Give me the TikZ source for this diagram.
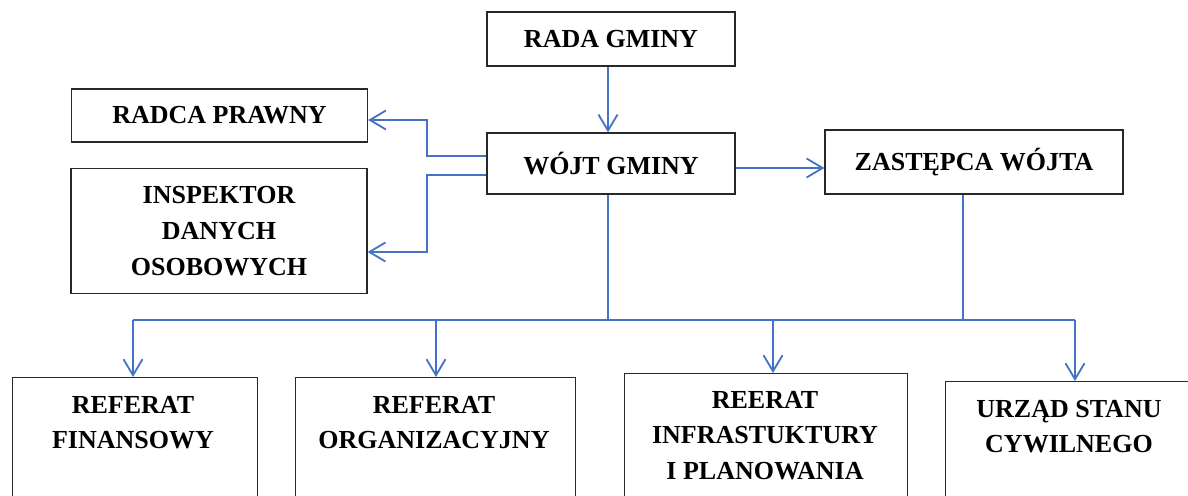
\documentclass[tikz,border=0pt]{standalone}
\usepackage{fontspec}
\setmainfont{Liberation Serif}
\usetikzlibrary{arrows.meta}
\definecolor{lineblue}{RGB}{68,114,196}
\definecolor{boxgray}{RGB}{40,40,40}
\begin{document}
\begin{tikzpicture}[x=1pt,y=-1pt,
  box/.style={draw=boxgray,line width=1.3pt,inner sep=0pt,align=center,
    font=\fontsize{26}{36}\selectfont\bfseries},
  lbl/.style={inner sep=0pt,align=center,anchor=north,
    font=\fontsize{26}{35.5}\selectfont\bfseries},
  conn/.style={draw=lineblue,line width=1.8pt},
  arr/.style={conn,-{Straight Barb[length=16pt,width=19pt]}}]
\useasboundingbox (0,0) rectangle (1188,495);

% top boxes
\node[box,minimum width=248pt,minimum height=54pt] (rada) at (611,39) {RADA GMINY};
\node[box,minimum width=248pt,minimum height=61pt] (wojt) at (611,163.5) {WÓJT GMINY};
\node[box,minimum width=298pt,minimum height=64pt] (zast) at (974,162) {ZASTĘPCA WÓJTA};
\node[box,minimum width=296pt,minimum height=53pt] (radca) at (219.5,115.5) {RADCA PRAWNY};
\node[box,minimum width=296pt,minimum height=125pt] (insp) at (219,231) {INSPEKTOR\\DANYCH\\OSOBOWYCH};

% bottom boxes (cut off by the page edge)
\node[box,minimum width=245pt,minimum height=160pt,anchor=north west] (fin) at (12,377) {};
\node[box,minimum width=280pt,minimum height=160pt,anchor=north west] (org) at (295,377) {};
\node[box,minimum width=283pt,minimum height=160pt,anchor=north west] (inf) at (624,373) {};
\node[box,minimum width=260pt,minimum height=160pt,anchor=north west] (usc) at (945,381) {};

\node[lbl] (finT) at (133,396) {REFERAT\\FINANSOWY};
\node[lbl] (orgT) at (434,396) {REFERAT\\ORGANIZACYJNY};
\node[lbl] (infT) at (765,391) {REERAT\\INFRASTUKTURY\\I PLANOWANIA};
\node[lbl] (uscT) at (1069,400) {URZĄD STANU\\CYWILNEGO};

% helper coordinates
\coordinate (wz) at (0,168);
\coordinate (lx) at (427,0);
\coordinate (y1) at (0,156);
\coordinate (y2) at (0,175);
\coordinate (ra) at (0,120);
\coordinate (ia) at (0,252);
\coordinate (bus) at (0,320);
\coordinate (b1) at (133,320);
\coordinate (b2) at (436,320);
\coordinate (b3) at (773,320);
\coordinate (b4) at (1075,320);

% connectors
\draw[arr] ([xshift=-3pt]rada.south) -- ([xshift=-3pt]wojt.north);
\draw[arr] (wojt.east |- wz) -- (zast.west |- wz);
\draw[arr] (wojt.west |- y1) -| (lx |- ra) -- (radca.east |- ra);
\draw[arr] (wojt.west |- y2) -| (lx |- ia) -- (insp.east |- ia);

\draw[conn] ([xshift=-3pt]wojt.south) -- ([xshift=-3pt]wojt.south |- bus);
\draw[conn] ([xshift=-11pt]zast.south) -- ([xshift=-11pt]zast.south |- bus);
\draw[conn] (b1) -- (b4);

\draw[arr] (b1) -- (b1 |- fin.north);
\draw[arr] (b2) -- (b2 |- org.north);
\draw[arr] (b3) -- (b3 |- inf.north);
\draw[arr] (b4) -- (b4 |- usc.north);
\end{tikzpicture}
\end{document}
